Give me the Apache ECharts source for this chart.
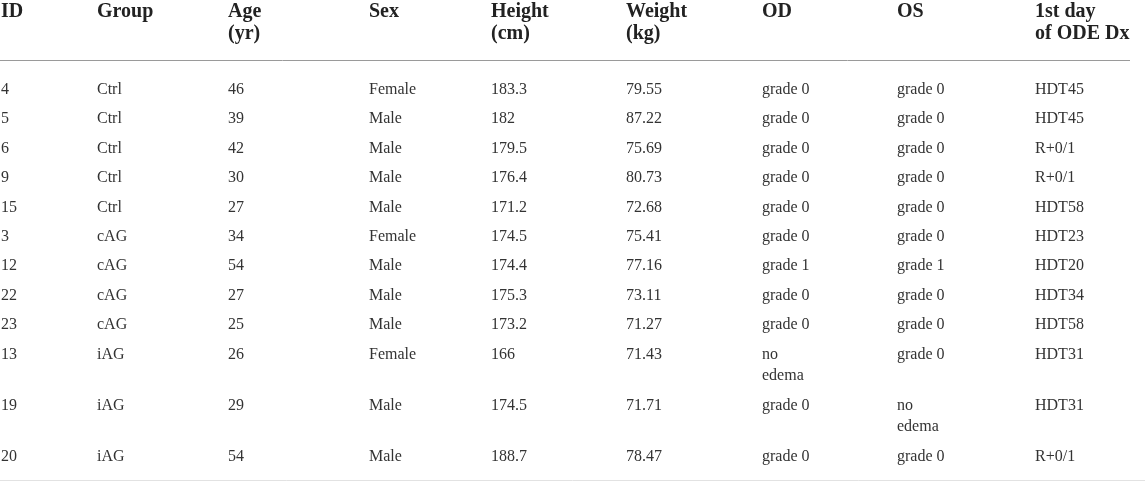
<!DOCTYPE html>
<html>
<head>
<meta charset="utf-8">
<script src="https://cdn.jsdelivr.net/npm/echarts@6/dist/echarts.min.js"></script>
<style>
  html, body { margin: 0; padding: 0; background: #fff; }
  #main { width: 1145px; height: 482px; }
</style>
</head>
<body>
<div id="main"></div>
<script>
// table contents
var headers = ['ID', 'Group', 'Age\n(yr)', 'Sex', 'Height\n(cm)', 'Weight\n(kg)', 'OD', 'OS', '1st day\nof ODE Dx'];
var ids = [4, 5, 6, 9, 15, 3, 12, 22, 23, 13, 19, 20];
var groups = ['Ctrl', 'Ctrl', 'Ctrl', 'Ctrl', 'Ctrl', 'cAG', 'cAG', 'cAG', 'cAG', 'iAG', 'iAG', 'iAG'];
var ages = [46, 39, 42, 30, 27, 34, 54, 27, 25, 26, 29, 54];
var sexes = ['Female', 'Male', 'Male', 'Male', 'Male', 'Female', 'Male', 'Male', 'Male', 'Female', 'Male', 'Male'];
var heights = [183.3, 182, 179.5, 176.4, 171.2, 174.5, 174.4, 175.3, 173.2, 166, 174.5, 188.7];
var weights = [79.55, 87.22, 75.69, 80.73, 72.68, 75.41, 77.16, 73.11, 71.27, 71.43, 71.71, 78.47];
var od = ['grade 0', 'grade 0', 'grade 0', 'grade 0', 'grade 0', 'grade 0', 'grade 1', 'grade 0', 'grade 0', 'no\nedema', 'grade 0', 'grade 0'];
var os = ['grade 0', 'grade 0', 'grade 0', 'grade 0', 'grade 0', 'grade 0', 'grade 1', 'grade 0', 'grade 0', 'grade 0', 'no\nedema', 'grade 0'];
var firstDx = ['HDT45', 'HDT45', 'R+0/1', 'R+0/1', 'HDT58', 'HDT23', 'HDT20', 'HDT34', 'HDT58', 'HDT31', 'HDT31', 'R+0/1'];

var columns = [ids, groups, ages, sexes, heights, weights, od, os, firstDx];

// layout (pixels)
var colLeft = [1, 97, 228, 369, 491, 626, 762, 897, 1035];
var headerTop = 0.5, headerLine = 60, bodyTop = 79.2, bottomLine = 480;
var rowPitch = 29.4, extraLine = 22;
var bodyLH = 21, headLH = 22;

var cells = [];
var cellText = [];
var cellHead = [];

headers.forEach(function (h, c) {
  cells.push([colLeft[c], headerTop]);
  cellText.push(h);
  cellHead.push(true);
});

var y = bodyTop;
ids.forEach(function (id, r) {
  var lines = 1;
  columns.forEach(function (col, c) {
    var t = String(col[r]);
    lines = Math.max(lines, t.split('\n').length);
    cells.push([colLeft[c], y]);
    cellText.push(t);
    cellHead.push(false);
  });
  y += rowPitch + extraLine * (lines - 1);
});

var ruleColors = ['#9a9a9a', '#e2e2e2'];

var chart = echarts.init(document.getElementById('main'));

chart.setOption({
  animation: false,
  backgroundColor: '#fff',
  grid: { left: 0, right: 0, top: 0, bottom: 0 },
  xAxis: { type: 'value', min: 0, max: 1145, show: false },
  yAxis: { type: 'value', min: 0, max: 482, inverse: true, show: false },
  series: [
    {
      type: 'custom',
      silent: true,
      data: [[0, headerLine, 1130], [0, bottomLine, 1145]],
      renderItem: function (params, api) {
        var a = api.coord([api.value(0), api.value(1)]);
        var b = api.coord([api.value(2), api.value(1)]);
        return {
          type: 'line',
          shape: { x1: a[0], y1: Math.round(a[1]) + 0.5, x2: b[0], y2: Math.round(b[1]) + 0.5 },
          style: { stroke: ruleColors[params.dataIndex], lineWidth: 1 }
        };
      }
    },
    {
      type: 'custom',
      silent: true,
      data: cells,
      renderItem: function (params, api) {
        var p = api.coord([api.value(0), api.value(1)]);
        var head = cellHead[params.dataIndex];
        return {
          type: 'text',
          x: p[0],
          y: p[1],
          style: {
            text: cellText[params.dataIndex],
            fontFamily: 'Liberation Serif',
            fontSize: head ? 20 : 16,
            fontWeight: head ? 'bold' : 'normal',
            lineHeight: head ? headLH : bodyLH,
            fill: head ? '#222' : '#333',
            align: 'left',
            verticalAlign: 'top'
          }
        };
      }
    }
  ]
});
</script>
</body>
</html>
